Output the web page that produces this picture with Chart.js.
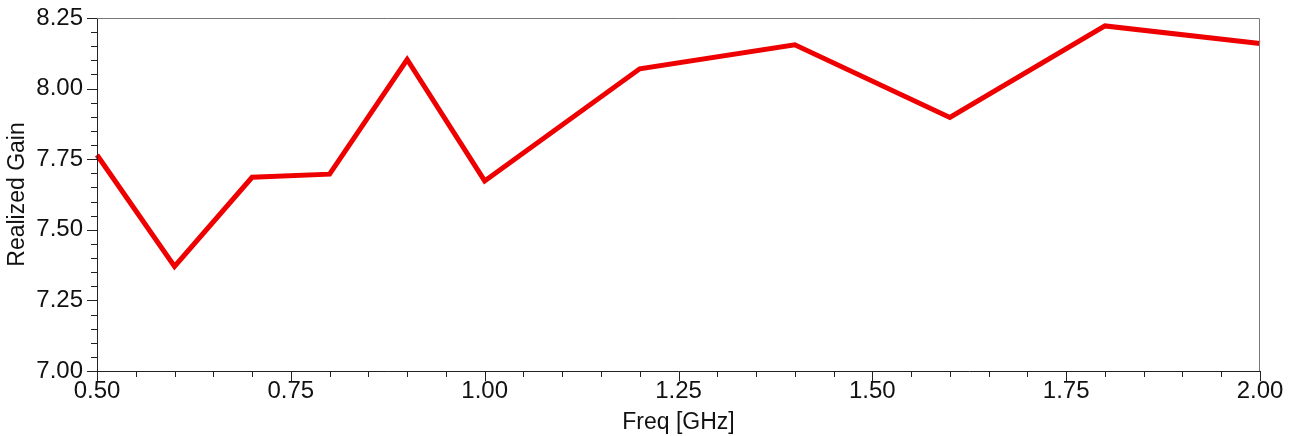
<!DOCTYPE html>
<html>
<head>
<meta charset="utf-8">
<script src="https://cdn.jsdelivr.net/npm/chart.js@4/dist/chart.umd.min.js"></script>
<style>
  html, body { margin: 0; padding: 0; background: #fff; }
  #wrap { width: 1298px; height: 436px; }
</style>
</head>
<body>
<div id="wrap"><canvas id="gainChart" width="1298" height="436"></canvas></div>
<script>
// data
const freqGHz = [0.5, 0.6, 0.7, 0.8, 0.9, 1.0, 1.2, 1.4, 1.6, 1.8, 2.0];
const realizedGain = [7.765, 7.37, 7.686, 7.697, 8.103, 7.673, 8.07, 8.155, 7.898, 8.222, 8.16];
const xMajorTicks = [0.5, 0.75, 1.0, 1.25, 1.5, 1.75, 2.0];
const yMajorTicks = [7.0, 7.25, 7.5, 7.75, 8.0, 8.25];

const isMajor = (v, list) => list.some(t => Math.abs(t - v) < 1e-6);

// frame + major/minor tick marks drawn from the scales
const frameTicks = {
  id: "frameTicks",
  afterDraw(chart) {
    const ctx = chart.ctx;
    const a = chart.chartArea;
    const xs = chart.scales.x, ys = chart.scales.y;
    ctx.save();
    ctx.strokeStyle = "#222";
    ctx.lineWidth = 1;
    ctx.beginPath();
    xs.ticks.forEach(t => {
      const px = Math.round(xs.getPixelForValue(t.value)) + 0.5;
      const len = isMajor(t.value, xMajorTicks) ? 10 : 6;
      ctx.moveTo(px, a.bottom);
      ctx.lineTo(px, a.bottom + len);
    });
    ys.ticks.forEach(t => {
      const py = Math.round(ys.getPixelForValue(t.value)) + 0.5;
      const len = isMajor(t.value, yMajorTicks) ? 10 : 6;
      ctx.moveTo(a.left, py);
      ctx.lineTo(a.left - len, py);
    });
    ctx.stroke();
    // left/bottom axis lines
    ctx.beginPath();
    ctx.moveTo(a.left + 0.5, a.top);
    ctx.lineTo(a.left + 0.5, a.bottom + 0.5);
    ctx.lineTo(a.right, a.bottom + 0.5);
    ctx.stroke();
    // top/right frame in grey
    ctx.strokeStyle = "#777";
    ctx.beginPath();
    ctx.moveTo(a.left, a.top + 0.5);
    ctx.lineTo(a.right - 0.5, a.top + 0.5);
    ctx.lineTo(a.right - 0.5, a.bottom);
    ctx.stroke();
    ctx.restore();
  }
};

new Chart(document.getElementById("gainChart"), {
  type: "line",
  data: {
    datasets: [{
      label: "Realized Gain",
      data: freqGHz.map((f, i) => ({ x: f, y: realizedGain[i] })),
      borderColor: "#ee0000",
      borderWidth: 5,
      pointRadius: 0,
      tension: 0,
      fill: false,
      clip: 4
    }]
  },
  options: {
    responsive: false,
    animation: false,
    layout: { padding: { left: 0, right: 38, top: 18, bottom: 0 } },
    plugins: { legend: { display: false }, tooltip: { enabled: false } },
    scales: {
      x: {
        type: "linear",
        min: 0.5,
        max: 2.0,
        border: { display: false },
        grid: { display: false, drawTicks: false },
        ticks: {
          stepSize: 0.05,
          autoSkip: false,
          maxRotation: 0,
          padding: 6,
          color: "#111",
          font: { family: "Liberation Sans, Arial, sans-serif", size: 24 },
          callback: v => isMajor(v, xMajorTicks) ? v.toFixed(2) : ""
        },
        title: {
          display: true,
          text: "Freq [GHz]",
          color: "#111",
          padding: { top: 0, bottom: 0 },
          font: { family: "Liberation Sans, Arial, sans-serif", size: 23 }
        },
        afterFit(scale) {
          scale.height = 65;
          scale.paddingLeft = 0;
          scale.paddingRight = 0;
        }
      },
      y: {
        min: 7.0,
        max: 8.25,
        border: { display: false },
        grid: { display: false, drawTicks: false },
        ticks: {
          stepSize: 0.05,
          autoSkip: false,
          padding: 14,
          color: "#111",
          font: { family: "Liberation Sans, Arial, sans-serif", size: 24 },
          callback: v => isMajor(v, yMajorTicks) ? v.toFixed(2) : ""
        },
        title: {
          display: true,
          text: "Realized Gain",
          color: "#111",
          padding: { top: 4, bottom: 0 },
          font: { family: "Liberation Sans, Arial, sans-serif", size: 23 }
        },
        afterFit(scale) {
          scale.width = 97;
          scale.paddingTop = 0;
          scale.paddingBottom = 0;
        }
      }
    }
  },
  plugins: [frameTicks]
});
</script>
</body>
</html>
